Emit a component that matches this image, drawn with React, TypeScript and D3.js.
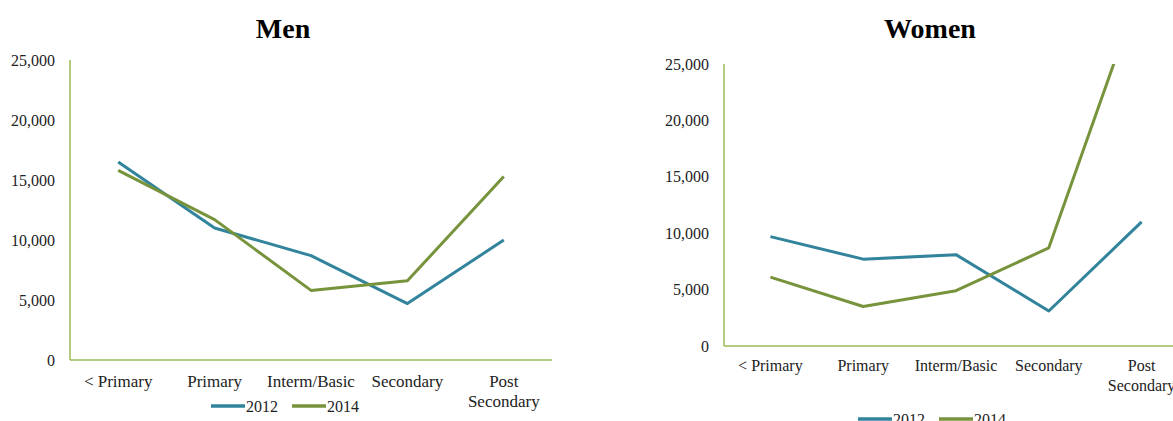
import React from "react";
import * as d3 from "d3";

const categories = ["< Primary", "Primary", "Interm/Basic", "Secondary", "Post Secondary"];
const seriesNames = ["2012", "2014"];
const men2012 = [16500, 11000, 8700, 4700, 10000];
const men2014 = [15800, 11700, 5800, 6600, 15300];
const women2012 = [9700, 7700, 8100, 3100, 11000];
const women2014 = [6100, 3500, 4900, 8700, 32000];
const yTicks = [0, 5000, 10000, 15000, 20000, 25000];

const colors = ["#31849B", "#77933C"];
const axisColor = "#9BBB59";
const font = "Liberation Serif";

type PanelProps = {
  id: string;
  title: string;
  titleX: number;
  left: number;
  right: number;
  top: number;
  bottom: number;
  axisRight: number;
  series: number[][];
  legendX: number;
  legendY: number;
  labelSize: number;
  labelOffset: number;
};

function Panel(p: PanelProps) {
  const x = d3.scaleBand<string>().domain(categories).range([p.left, p.right]);
  const y = d3.scaleLinear().domain([0, 25000]).range([p.bottom, p.top]);
  const line = d3
    .line<number>()
    .x((_, i) => (x(categories[i]) as number) + x.bandwidth() / 2)
    .y((d) => y(d));
  const fmt = d3.format(",");
  return (
    <g>
      <defs>
        <clipPath id={p.id}>
          <rect x={p.left} y={p.top} width={p.right - p.left} height={p.bottom - p.top} />
        </clipPath>
      </defs>
      <text x={p.titleX} y={38} textAnchor="middle" style={{ fontFamily: font }} fontWeight="bold" fontSize={28}>
        {p.title}
      </text>
      {yTicks.map((t) => (
        <text key={t} x={p.left - 15} y={y(t)} dy="0.35em" textAnchor="end" style={{ fontFamily: font }} fontSize={16} fill="#222">
          {fmt(t)}
        </text>
      ))}
      <line x1={p.left} x2={p.left} y1={p.top} y2={p.bottom} stroke={axisColor} strokeWidth={1.5} />
      <line x1={p.left} x2={p.axisRight} y1={p.bottom} y2={p.bottom} stroke={axisColor} strokeWidth={1.5} />
      {categories.map((c) => {
        const cx = (x(c) as number) + x.bandwidth() / 2;
        const parts = c === "Post Secondary" ? ["Post", "Secondary"] : [c];
        return (
          <text key={c} x={cx} y={p.bottom + p.labelOffset} textAnchor="middle" style={{ fontFamily: font }} fontSize={p.labelSize} fill="#222">
            {parts.map((s, i) => (
              <tspan key={i} x={cx} dy={i === 0 ? 0 : 20}>
                {s}
              </tspan>
            ))}
          </text>
        );
      })}
      <g clipPath={`url(#${p.id})`}>
        {p.series.map((s, i) => (
          <path key={i} d={line(s) || ""} fill="none" stroke={colors[i]} strokeWidth={3} strokeLinejoin="round" />
        ))}
      </g>
      {seriesNames.map((n, i) => {
        const lx = p.legendX + i * 81;
        return (
          <g key={n}>
            <line x1={lx} x2={lx + 34} y1={p.legendY} y2={p.legendY} stroke={colors[i]} strokeWidth={3.5} />
            <text x={lx + 35} y={p.legendY} dy="0.35em" style={{ fontFamily: font }} fontSize={16} fill="#222">
              {n}
            </text>
          </g>
        );
      })}
    </g>
  );
}

export default function App() {
  return (
    <svg
      width={1173}
      height={421}
      style={{ position: "absolute", left: 0, top: 0, background: "#fff" }}
    >
      <rect width={1173} height={421} fill="#fff" />
      <Panel
        id="clipMen"
        title="Men"
        titleX={283}
        left={70}
        right={552}
        top={60}
        bottom={360}
        axisRight={552}
        series={[men2012, men2014]}
        legendX={211}
        legendY={406}
        labelSize={17}
        labelOffset={27}
      />
      <Panel
        id="clipWomen"
        title="Women"
        titleX={930}
        left={724}
        right={1188}
        top={64}
        bottom={346}
        axisRight={1173}
        series={[women2012, women2014]}
        legendX={858}
        legendY={419}
        labelSize={16}
        labelOffset={25}
      />
    </svg>
  );
}
